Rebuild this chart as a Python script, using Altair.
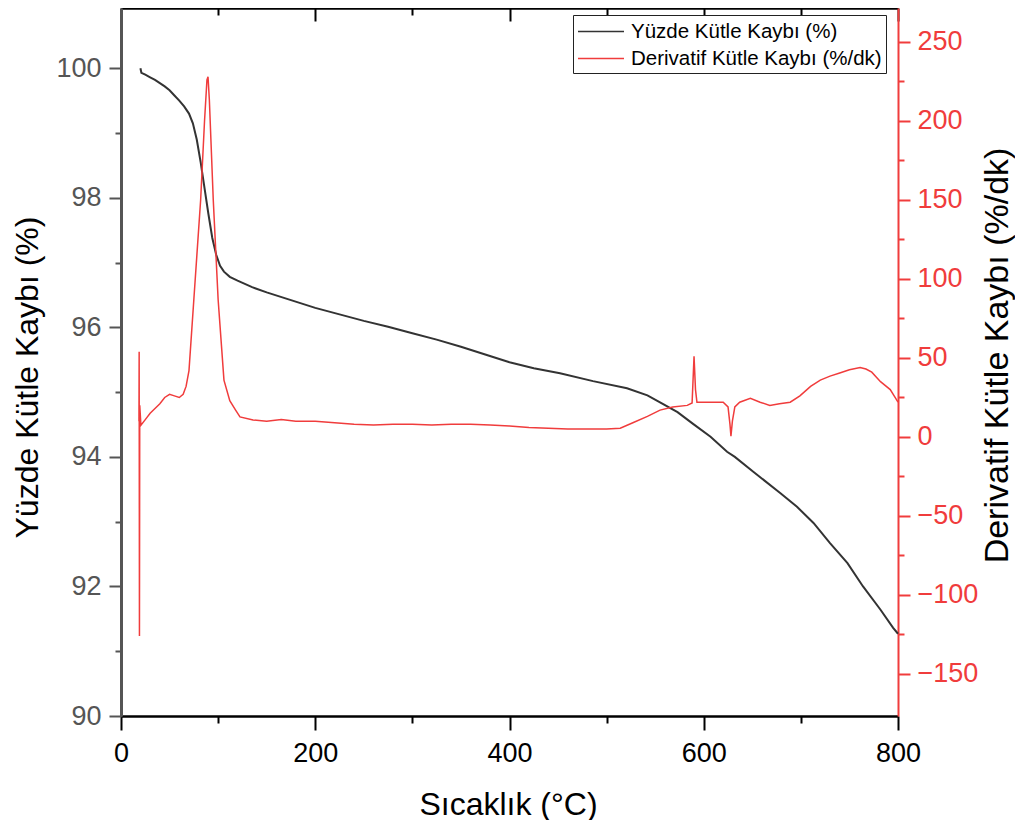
import altair as alt
import pandas as pd

# ---------------- data ----------------
x_title = "Sıcaklık (°C)"
yl_title = "Yüzde Kütle Kaybı (%)"
yr_title = "Derivatif Kütle Kaybı (%/dk)"
series = ["Yüzde Kütle Kaybı (%)", "Derivatif Kütle Kaybı (%/dk)"]

mass_T = [20, 21, 25, 30, 35, 40, 45, 50, 55, 60, 65, 70, 74, 78, 82, 86, 90, 94, 98,
          102, 106, 112, 120, 135, 150, 175, 200, 225, 250, 275, 300, 325, 350, 375,
          400, 425, 452, 486, 521, 542, 555, 573, 589, 607, 624, 632, 651, 679, 696,
          713, 730, 748, 764, 782, 795, 800]
mass_pct = [100.00, 99.93, 99.90, 99.86, 99.82, 99.77, 99.72, 99.66, 99.58, 99.50,
            99.41, 99.30, 99.15, 98.90, 98.55, 98.15, 97.75, 97.38, 97.12, 96.95,
            96.86, 96.78, 96.72, 96.62, 96.54, 96.42, 96.30, 96.20, 96.10, 96.01,
            95.91, 95.81, 95.70, 95.58, 95.46, 95.37, 95.29, 95.17, 95.06, 94.95,
            94.84, 94.69, 94.51, 94.31, 94.08, 94.00, 93.77, 93.44, 93.23, 92.98,
            92.67, 92.36, 92.00, 91.64, 91.36, 91.27]

dtg_T = [18.5, 18.7, 19.0, 19.3, 20.5, 25, 30, 35, 40, 45, 50, 55, 60, 64, 67, 70, 75,
         82, 86, 88.5, 89.6, 91, 95, 100, 106, 112, 118, 122.5, 136, 150, 165, 180,
         200, 220, 240, 260, 280, 300, 320, 340, 360, 380, 400, 420, 440, 460, 480,
         500, 514, 527, 542, 555, 568, 583, 588, 590, 591.5, 593, 607, 620, 625, 627,
         628, 629.5, 632, 637, 648, 658, 668, 678, 689, 699, 710, 720, 730, 740, 750,
         761, 767, 773, 782, 792, 797, 800]
dtg_val = [10, 54, -126, 20, 7.5, 11, 15, 18, 21, 25, 27, 26, 25, 27, 32, 42, 87,
           150, 200, 226, 228, 213, 150, 87, 36, 23, 17, 12.7, 10.8, 10, 11, 10,
           10, 9, 8, 7.5, 8, 8, 7.5, 8, 8, 7.5, 7, 6, 5.5, 5, 5,
           5, 5.5, 9, 13, 17, 19, 20, 21.5, 51, 30, 22, 22, 22, 19, 8,
           0.5, 10, 19, 22, 24.5, 22, 20, 21, 22, 26, 32, 36, 38.5, 40.5, 42.5,
           44, 43, 41, 35, 30, 25, 22]

x_major = [0, 200, 400, 600, 800]
x_minor = [100, 300, 500, 700]
yl_major = [90, 92, 94, 96, 98, 100]
yl_minor = [91, 93, 95, 97, 99]
yr_major = [-150, -100, -50, 0, 50, 100, 150, 200, 250]
yr_minor = [-125, -75, -25, 25, 75, 125, 175, 225]

x_domain = [0, 800]
yl_domain = [90, 100.93]
yr_domain = [-176.6, 271.5]

# ---------------- style ----------------
W, H = 777, 708
LBL = "Liberation Sans, Arial"
SANS = "Liberation Sans, Arial"
LBL_SIZE = 27
RED = "#f03c3c"
GRAY = "#555555"
BLACK_LINE = "#333333"

df_m = pd.DataFrame({"T": mass_T, "v": mass_pct, "s": series[0]})
df_d = pd.DataFrame({"T": dtg_T, "v": dtg_val, "s": series[1]})

xs = alt.Scale(domain=x_domain, nice=False, zero=False)
yls = alt.Scale(domain=yl_domain, nice=False, zero=False)
yrs = alt.Scale(domain=yr_domain, nice=False, zero=False)

color = alt.Color(
    "s:N",
    scale=alt.Scale(domain=series, range=[BLACK_LINE, RED]),
    legend=alt.Legend(
        title=None, orient="none", legendX=452, legendY=7, direction="vertical",
        symbolType="M-1,0H3", symbolSize=529, symbolStrokeWidth=1.5,
        labelOffset=29, labelFont=SANS, labelFontSize=20.5, labelColor="black",
        labelLimit=400, rowPadding=4, padding=4, strokeColor="#222222",
        fillColor="white", cornerRadius=0,
    ),
)

common_lbl = dict(labelFlush=False, labelOverlap=False, grid=False)

black = alt.Chart(df_m).mark_line(strokeWidth=2).encode(
    x=alt.X("T:Q", scale=xs, axis=alt.Axis(
        orient="bottom", values=x_major, format="d", title=x_title,
        labelFont=LBL, labelFontSize=LBL_SIZE, labelColor="black", labelPadding=10,
        tickSize=14, tickWidth=2, tickColor="black",
        domainColor="black", domainWidth=2.5,
        titleFont=SANS, titleFontSize=32, titleFontWeight="normal", titleColor="black",
        titleX=387, titleY=98, titleAngle=0, titleAlign="center", titleBaseline="alphabetic",
        **common_lbl)),
    y=alt.Y("v:Q", scale=yls, axis=alt.Axis(
        orient="left", values=yl_major, format="d", title=yl_title,
        labelFont=LBL, labelFontSize=LBL_SIZE, labelColor=GRAY, labelPadding=8,
        tickSize=12, tickWidth=2, tickColor=GRAY,
        domainColor=GRAY, domainWidth=3,
        titleFont=SANS, titleFontSize=32, titleFontWeight="normal", titleColor="black",
        titleX=-84, titleY=369, titleAngle=270, titleAlign="center", titleBaseline="alphabetic",
        **common_lbl)),
    color=color,
)

red = alt.Chart(df_d).mark_line(strokeWidth=1.5).encode(
    x=alt.X("T:Q", scale=xs, axis=None),
    y=alt.Y("v:Q", scale=yrs, axis=alt.Axis(
        orient="right", values=yr_major, format="d", title=yr_title,
        labelFont=LBL, labelFontSize=LBL_SIZE, labelColor=RED, labelPadding=7,
        tickSize=12, tickWidth=2, tickColor=RED,
        domainColor=RED, domainWidth=2,
        titleFont=SANS, titleFontSize=34, titleFontWeight="normal", titleColor="black",
        titleX=109, titleY=347, titleAngle=270, titleAlign="center", titleBaseline="alphabetic",
        **common_lbl)),
    color=color,
)

minor_lb = alt.Chart(df_m).mark_line(opacity=0).encode(
    x=alt.X("T:Q", scale=xs, axis=alt.Axis(
        orient="bottom", values=x_minor, labels=False, title=None, domain=False,
        tickSize=7, tickWidth=2, tickColor="black", grid=False)),
    y=alt.Y("v:Q", scale=yls, axis=alt.Axis(
        orient="left", values=yl_minor, labels=False, title=None, domain=False,
        tickSize=6, tickWidth=2, tickColor=GRAY, grid=False)),
)

top_major = alt.Chart(df_m).mark_line(opacity=0).encode(
    x=alt.X("T:Q", scale=xs, axis=alt.Axis(
        orient="bottom", offset=-H, values=x_major, labels=False, title=None,
        domain=True, domainColor="black", domainWidth=2.5,
        tickSize=13, tickWidth=2, tickColor="black", grid=False)),
    y=alt.Y("v:Q", scale=yls, axis=None),
)

top_minor = alt.Chart(df_m).mark_line(opacity=0).encode(
    x=alt.X("T:Q", scale=xs, axis=alt.Axis(
        orient="bottom", offset=-H, values=x_minor, labels=False, title=None,
        domain=False, tickSize=7, tickWidth=2, tickColor="black", grid=False)),
    y=alt.Y("v:Q", scale=yls, axis=None),
)

right_minor = alt.Chart(df_d).mark_line(opacity=0).encode(
    x=alt.X("T:Q", scale=xs, axis=None),
    y=alt.Y("v:Q", scale=yrs, axis=alt.Axis(
        orient="right", values=yr_minor, labels=False, title=None, domain=False,
        tickSize=6, tickWidth=2, tickColor=RED, grid=False)),
)

chart = (
    alt.layer(minor_lb, top_major, top_minor, right_minor, black, red)
    .resolve_scale(y="independent")
    .resolve_axis(x="independent", y="independent")
    .properties(
        width=W, height=H,
        autosize=alt.AutoSizeParams(type="none"),
        padding={"left": 113, "top": 0, "right": 117, "bottom": 104},
        background="white",
    )
    .configure_view(stroke=None)
    .configure_axis(grid=False)
)

chart.save("out.html", embed_options={"renderer": "svg", "actions": False})
